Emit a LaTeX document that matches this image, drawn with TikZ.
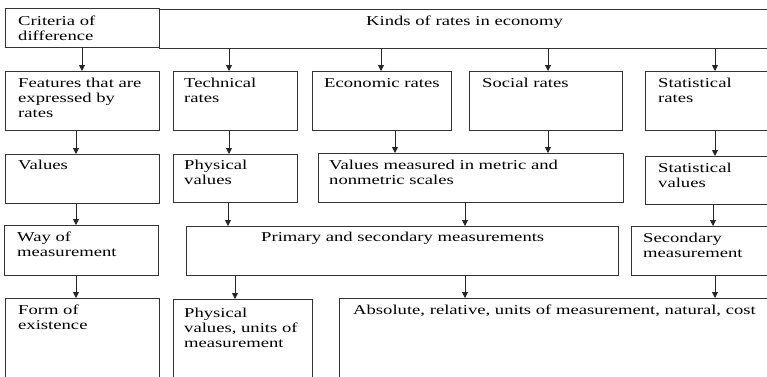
\documentclass[tikz,border=0pt]{standalone}
\usepackage{fontspec}
\setmainfont{Liberation Serif}[FakeStretch=1.37]
\usetikzlibrary{arrows.meta}
\newcommand{\mybox}[5]{\node[box, anchor=north west, minimum width={(#4-#2)*1pt}, minimum height={(#5-#3)*1pt}] (#1) at (#2,#3) {};}
\begin{document}
\begin{tikzpicture}[x=1pt,y=-1pt,
  box/.style={draw=black!80, line width=0.9pt, inner sep=0pt, outer sep=0pt},
  txt/.style={anchor=north west, inner sep=0pt, align=left, font=\fontsize{13.6}{15}\selectfont},
  arr/.style={draw=black!85, line width=0.9pt, -{Triangle[length=6pt,width=6pt]}}]
\useasboundingbox (0,0) rectangle (767,376);
\clip (0,0) rectangle (767,376);
% boxes
\mybox{crit}{5}{8}{159}{47}
\mybox{kinds}{159}{9}{790}{48}
\mybox{feat}{5}{71}{159}{130}
\mybox{tech}{173}{71}{297}{130}
\mybox{econ}{312}{71}{451}{130}
\mybox{soc}{469}{71}{622}{130}
\mybox{stat}{645}{71}{790}{130}
\mybox{vals}{5}{154}{159}{203}
\mybox{physv}{173}{154}{297}{202}
\mybox{meas}{318}{153}{623}{202}
\mybox{statv}{645}{156}{790}{204}
\mybox{way}{4}{225}{158}{275}
\mybox{prim}{186}{226}{618}{275}
\mybox{sec}{631}{226}{790}{275}
\mybox{form}{5}{298}{159}{400}
\mybox{physu}{173}{299}{312}{400}
\mybox{abs}{339}{298}{790}{400}
% texts
\node[txt] (critT) at (18,14.5) {\strut Criteria of\\difference};
\node[txt] (kindsT) at (366,14.5) {\strut Kinds of rates in economy};
\node[txt] (featT) at (18,76.5) {\strut Features that are\\expressed by\\rates};
\node[txt] (techT) at (184,76.5) {\strut Technical\\rates};
\node[txt] (econT) at (324,76.5) {\strut Economic rates};
\node[txt] (socT) at (482,76.5) {\strut Social rates};
\node[txt] (statT) at (658,76.5) {\strut Statistical\\rates};
\node[txt] (valsT) at (18,158.5) {\strut Values};
\node[txt] (physvT) at (184,158.5) {\strut Physical\\values};
\node[txt] (measT) at (329,158.5) {\strut Values measured in metric and\\nonmetric scales};
\node[txt] (statvT) at (658,161.5) {\strut Statistical\\values};
\node[txt] (wayT) at (17,230.5) {\strut Way of\\measurement};
\node[txt] (primT) at (261,230.5) {\strut Primary and secondary measurements};
\node[txt] (secT) at (643,231.5) {\strut Secondary\\measurement};
\node[txt] (formT) at (18,303.5) {\strut Form of\\existence};
\node[txt] (physuT) at (184,306.5) {\strut Physical\\values, units of\\measurement};
\node[txt] (absT) at (353,303.5) {\strut Absolute, relative, units of measurement, natural, cost};
% arrow x positions
\coordinate (x82) at (82,0);
\coordinate (x229) at (229,0);
\coordinate (x381) at (381,0);
\coordinate (x548) at (548,0);
\coordinate (x715) at (715,0);
\coordinate (x76) at (76,0);
\coordinate (x395) at (395,0);
\coordinate (x228) at (228,0);
\coordinate (x465) at (465,0);
\coordinate (x713) at (713,0);
\coordinate (x235) at (235,0);
% arrows
\draw[arr] (crit.south -| x82) -- (feat.north -| x82);
\draw[arr] (kinds.south -| x229) -- (tech.north -| x229);
\draw[arr] (kinds.south -| x381) -- (econ.north -| x381);
\draw[arr] (kinds.south -| x548) -- (soc.north -| x548);
\draw[arr] (kinds.south -| x715) -- (stat.north -| x715);
\draw[arr] (feat.south -| x76) -- (vals.north -| x76);
\draw[arr] (tech.south -| x229) -- (physv.north -| x229);
\draw[arr] (econ.south -| x395) -- (meas.north -| x395);
\draw[arr] (soc.south -| x548) -- (meas.north -| x548);
\draw[arr] (stat.south -| x715) -- (statv.north -| x715);
\draw[arr] (vals.south -| x76) -- (way.north -| x76);
\draw[arr] (physv.south -| x228) -- (prim.north -| x228);
\draw[arr] (meas.south -| x465) -- (prim.north -| x465);
\draw[arr] (statv.south -| x713) -- (sec.north -| x713);
\draw[arr] (way.south -| x76) -- (form.north -| x76);
\draw[arr] (prim.south -| x235) -- (physu.north -| x235);
\draw[arr] (prim.south -| x465) -- (abs.north -| x465);
\draw[arr] (sec.south -| x715) -- (abs.north -| x715);
\end{tikzpicture}
\end{document}
